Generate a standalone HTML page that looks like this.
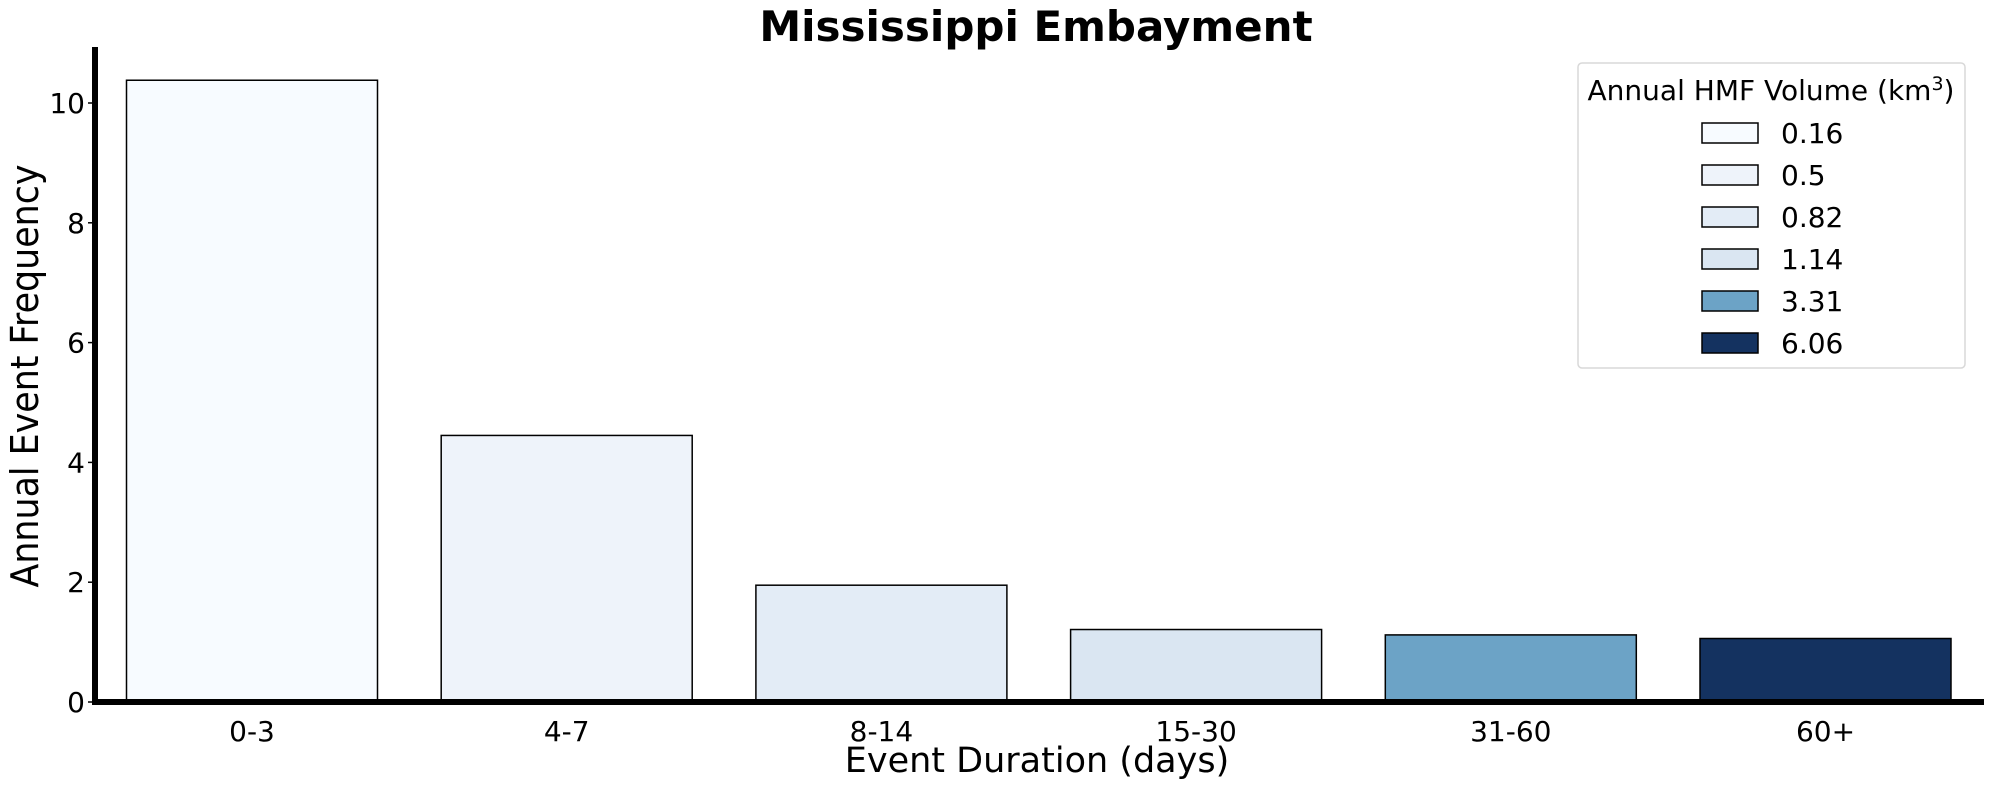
<!DOCTYPE html>
<html><head><meta charset="utf-8"><style>
html,body{margin:0;padding:0;background:#fff;}
svg{display:block;font-family:"DejaVu Sans","Liberation Sans",sans-serif;}
</style></head><body>
<svg id="chart" width="1990" height="789" viewBox="0 0 1990 789" xmlns="http://www.w3.org/2000/svg">
<text x="1036" y="41" text-anchor="middle" font-size="42" font-weight="bold">Mississippi Embayment</text>
<text transform="translate(38,376) rotate(-90)" text-anchor="middle" font-size="38" textLength="423" lengthAdjust="spacingAndGlyphs">Annual Event Frequency</text>
<text x="1037" y="772" text-anchor="middle" font-size="35">Event Duration (days)</text>
<g id="bars"></g>
<g id="yticks"></g>
<g id="xticks"></g>
<line x1="95" y1="47" x2="95" y2="705" stroke="#000" stroke-width="6"/>
<line x1="92" y1="702" x2="1984" y2="702" stroke="#000" stroke-width="6"/>
<g id="legend">
<rect x="1578" y="63" width="387" height="305" rx="4" fill="#fff" stroke="#d8d8d8" stroke-width="1.5"/>
<text x="1771" y="100" text-anchor="middle" font-size="28">Annual HMF Volume (km<tspan font-size="19" dy="-10">3</tspan><tspan dy="10">)</tspan></text>
</g>
</svg>
<script>
const categories = ["0-3","4-7","8-14","15-30","31-60","60+"];
const frequencies = [10.38, 4.45, 1.95, 1.21, 1.12, 1.06];
const volumes = ["0.16","0.5","0.82","1.14","3.31","6.06"];
const colors = ["#f7fbff","#eef3fa","#e3ecf6","#dae6f2","#6ca3c6","#143260"];
const yTicks = [0,2,4,6,8,10];

const NS = "http://www.w3.org/2000/svg";
const y0 = 702, unit = 59.9;
function yScale(v){ return y0 - v*unit; }
function xCenter(i){ return 252 + i*314.7; }
const barW = 251;

const bars = document.getElementById('bars');
categories.forEach((c,i)=>{
  const r = document.createElementNS(NS,'rect');
  
  
  r.setAttribute('x', xCenter(i)-barW/2);
  r.setAttribute('y', yScale(frequencies[i]));
  r.setAttribute('width', barW);
  r.setAttribute('height', frequencies[i]*unit);
  r.setAttribute('fill', colors[i]);
  r.setAttribute('stroke', '#000');
  r.setAttribute('stroke-width', '1.5');
  bars.appendChild(r);
  const t = document.createElementNS(NS,'text');
  
  
  t.setAttribute('x', xCenter(i));
  t.setAttribute('y', 741);
  t.setAttribute('text-anchor','middle');
  t.setAttribute('font-size','28');
  t.textContent = c;
  document.getElementById('xticks').appendChild(t);
});
const yt = document.getElementById('yticks');
yTicks.forEach(v=>{
  const t = document.createElementNS(NS,'text');
  
  
  t.setAttribute('x', 85);
  t.setAttribute('y', yScale(v)+10);
  t.setAttribute('text-anchor','end');
  t.setAttribute('font-size','28');
  t.textContent = v;
  yt.appendChild(t);
  const l = document.createElementNS(NS,'line');
  
  
  l.setAttribute('x1', 88); l.setAttribute('x2', 95);
  l.setAttribute('y1', yScale(v)); l.setAttribute('y2', yScale(v));
  l.setAttribute('stroke','#000'); l.setAttribute('stroke-width','1.5');
  yt.appendChild(l);
});
const lg = document.getElementById('legend');
volumes.forEach((v,i)=>{
  const cy = 133 + i*42;
  const r = document.createElementNS(NS,'rect');
  
  
  r.setAttribute('x', 1702); r.setAttribute('y', cy-10);
  r.setAttribute('width', 56); r.setAttribute('height', 20);
  r.setAttribute('fill', colors[i]); r.setAttribute('stroke','#000'); r.setAttribute('stroke-width','1.5');
  lg.appendChild(r);
  const t = document.createElementNS(NS,'text');
  
  
  t.setAttribute('x', 1781); t.setAttribute('y', cy+10);
  t.setAttribute('font-size','28');
  t.textContent = v;
  lg.appendChild(t);
});
</script>
</body></html>
